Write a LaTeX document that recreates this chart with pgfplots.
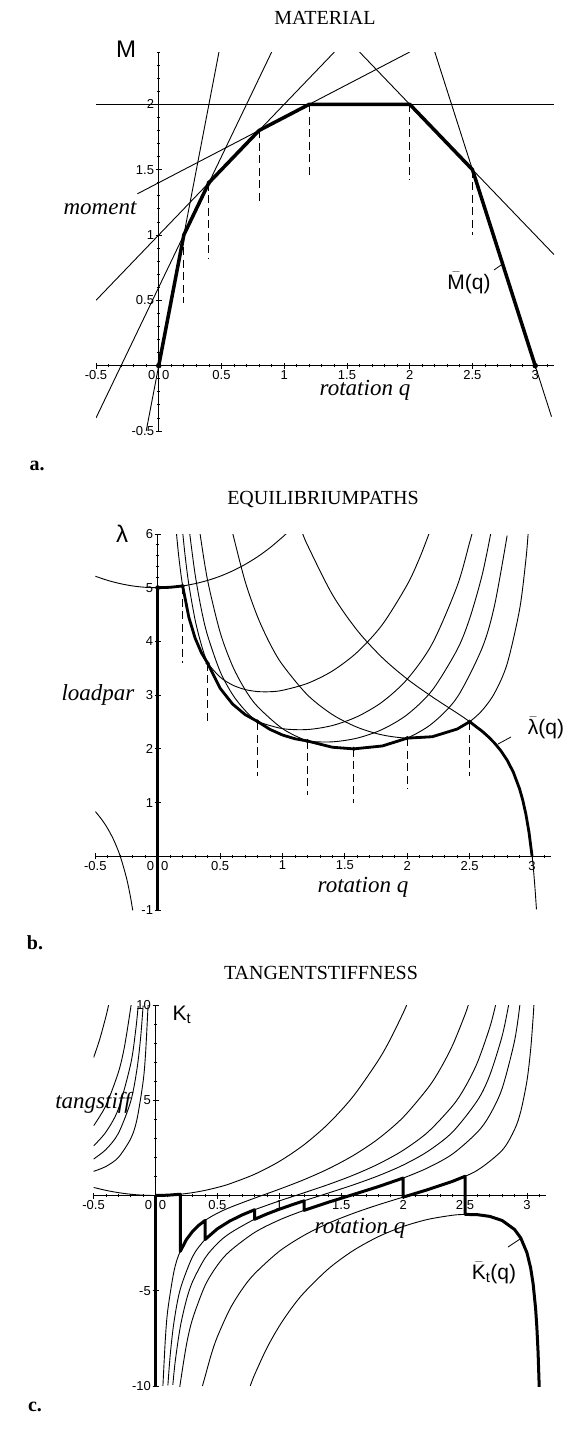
\documentclass[border=0pt]{standalone}
\usepackage{pgfplots}
\pgfplotsset{compat=1.18}
\usepackage{fontspec}
\setmainfont{Liberation Serif}
\newfontfamily\sansf{Liberation Sans}
\pgfplotsset{
  maple/.style={
    scale only axis, anchor=south west,
    axis lines=middle,
    axis line style={-, line width=0.9pt},
    tick align=center,
    major tick length=6pt, minor tick length=3.5pt,
    every tick/.style={black, line width=0.8pt},
    xmin=-0.5, xmax=3.15,
    xtick={-0.5,0,0.5,1,1.5,2,2.5,3,3.5},
    xticklabels={-0.5,0\hspace{7pt}0,0.5,1,1.5,2,2.5,3,},
    minor x tick num=4, minor y tick num=4,
    ticklabel style={font=\sansf\fontsize{13}{13}\selectfont, inner sep=1.5pt},
    hide obscured x ticks=false, hide obscured y ticks=false,
    clip=true,
  },
  thinc/.style={black, line width=0.9pt, no markers, smooth},
  thinl/.style={black, line width=0.9pt, no markers},
  dsh/.style={black, line width=1pt, no markers, dash pattern=on 8pt off 4.5pt},
}
\newcommand{\ttl}{\fontsize{20}{20}\selectfont}
\newcommand{\lab}{\itshape\fontsize{23}{23}\selectfont}
\newcommand{\hw}{\sansf\fontsize{21}{21}\selectfont}
\newcommand{\barr}[1]{\ensuremath{\bar{\mbox{#1}}}}
\begin{document}
\begin{tikzpicture}[x=1pt,y=1pt]
\useasboundingbox (0pt,0pt) rectangle (575pt,-1437pt);

% ---------------- panel a ----------------
\begin{axis}[maple, at={(96pt,-431pt)}, width=458pt, height=379pt,
  ymin=-0.5, ymax=2.4,
  ytick={-0.5,0,0.5,1,1.5,2,2.5}, yticklabels={-0.5,,0.5,1,1.5,2,}]
\addplot[thinl] coordinates {(-0.1,-0.5) (0.48,2.4)};
\addplot[thinl] coordinates {(-0.5,-0.4) (0.9,2.4)};
\addplot[thinl] coordinates {(-0.5,0.5) (1.4,2.4)};
\addplot[thinl] coordinates {(-0.17,1.315) (2.0,2.4)};
\addplot[thinl] coordinates {(-0.5,2) (3.15,2)};
\addplot[thinl] coordinates {(1.6,2.4) (3.15,0.85)};
\addplot[thinl] coordinates {(2.2,2.4) (3.13,-0.39)};
\addplot[black, line width=3.5pt, line join=round, no markers] coordinates {(0,0) (0.2,1) (0.4,1.4) (0.8,1.8) (1.2,2) (2,2) (2.5,1.5) (3,0)};
\addplot[dsh] coordinates {(0.2,1) (0.2,0.48)};
\addplot[dsh] coordinates {(0.4,1.4) (0.4,0.82)};
\addplot[dsh] coordinates {(0.8,1.8) (0.8,1.23)};
\addplot[dsh] coordinates {(1.2,2) (1.2,1.46)};
\addplot[dsh] coordinates {(2,2) (2,1.42)};
\addplot[dsh] coordinates {(2.5,1.5) (2.5,1.0)};
\addplot[only marks, mark=*, mark size=2.5pt, black] coordinates {(0,0) (3,0)};
\addplot[only marks, mark=o, mark size=2pt, black, mark options={fill=white}] coordinates {(0.4,1.4)};
\end{axis}

% ---------------- panel b ----------------
\begin{axis}[maple, at={(95.3pt,-910pt)}, width=455.5pt, height=376pt,
  ymin=-1, ymax=6,
  ytick={-1,0,1,2,3,4,5,6}, yticklabels={-1,,1,2,3,4,5,6}]
\addplot[thinc] coordinates {(-0.5,5.214) (-0.4,5.136) (-0.3,5.076) (-0.2,5.033) (-0.1,5.008) (0,5) (0.1,5.008) (0.2,5.033) (0.3,5.076) (0.4,5.136) (0.5,5.214) (0.6,5.313) (0.7,5.433) (0.8,5.576) (0.9,5.745) (1.0,5.942) (1.03,6.007)};
\addplot[thinc] coordinates {(-0.5,0.834) (-0.45,0.690) (-0.4,0.514) (-0.35,0.292) (-0.3,0) (-0.25,-0.404) (-0.22,-0.733) (-0.2,-1.007)};
\addplot[thinc] coordinates {(0.15,6.022) (0.17,5.556) (0.2,5.033) (0.25,4.446) (0.3,4.061) (0.35,3.791) (0.4,3.595) (0.5,3.337) (0.6,3.188) (0.7,3.105) (0.8,3.067) (0.9,3.064) (1.0,3.090) (1.2,3.219) (1.4,3.450) (1.6,3.802) (1.8,4.313) (2.0,5.059) (2.1,5.561) (2.173,6.0)};
\addplot[thinc] coordinates {(0.2,6.04) (0.22,5.590) (0.25,5.053) (0.3,4.399) (0.35,3.937) (0.4,3.595) (0.5,3.129) (0.6,2.834) (0.7,2.639) (0.8,2.509) (1.0,2.377) (1.2,2.360) (1.4,2.435) (1.6,2.601) (1.8,2.875) (2.0,3.299) (2.2,3.958) (2.4,5.034) (2.5,5.848) (2.518,6.0)};
\addplot[thinc] coordinates {(0.257,6.0) (0.3,5.245) (0.35,4.593) (0.4,4.109) (0.5,3.442) (0.6,3.011) (0.7,2.716) (0.8,2.509) (1.0,2.258) (1.2,2.146) (1.4,2.131) (1.6,2.201) (1.8,2.362) (2.0,2.639) (2.2,3.092) (2.4,3.849) (2.5,4.428) (2.6,5.238) (2.668,6.0)};
\addplot[thinc] coordinates {(0.34,5.997) (0.4,5.136) (0.5,4.172) (0.6,3.542) (0.7,3.105) (0.8,2.788) (1.0,2.377) (1.2,2.146) (1.4,2.030) (1.571,2.0) (1.8,2.054) (2.0,2.2) (2.2,2.474) (2.4,2.961) (2.6,3.880) (2.7,4.680) (2.8,5.970)};
\addplot[thinc] coordinates {(0.6,6.022) (0.7,5.122) (0.8,4.461) (0.9,3.957) (1.0,3.565) (1.2,3.004) (1.4,2.638) (1.6,2.401) (1.8,2.259) (2.0,2.2) (2.2,2.226) (2.4,2.369) (2.5,2.506) (2.6,2.716) (2.7,3.042) (2.8,3.582) (2.9,4.598) (2.95,5.514) (2.968,6.0)};
\addplot[thinc] coordinates {(1.16,6.021) (1.2,5.794) (1.4,4.871) (1.6,4.202) (1.8,3.697) (2.0,3.299) (2.2,2.968) (2.4,2.665) (2.5,2.506) (2.6,2.328) (2.7,2.106) (2.8,1.791) (2.9,1.254) (2.95,0.788) (3.0,0) (3.02,-0.495) (3.035,-0.987)};
\addplot[black, line width=2.5pt, no markers] coordinates {(0,-1) (0,5)};
\addplot[black, line width=2.8pt, line join=round, no markers] coordinates {(0,5) (0.1,5.008) (0.2,5.033) (0.25,4.446) (0.3,4.061) (0.35,3.791) (0.4,3.595) (0.5,3.129) (0.6,2.834) (0.7,2.639) (0.8,2.509) (0.9,2.362) (1.0,2.258) (1.1,2.188) (1.2,2.146) (1.4,2.030) (1.571,2.0) (1.8,2.054) (2.0,2.2) (2.2,2.226) (2.4,2.369) (2.5,2.506) (2.55,2.416) (2.6,2.328) (2.65,2.224) (2.7,2.106) (2.75,1.965) (2.8,1.791) (2.85,1.565) (2.9,1.254) (2.925,1.047) (2.95,0.788) (2.975,0.452) (3.0,0)};
\addplot[dsh] coordinates {(0.2,5.03) (0.2,3.6)};
\addplot[dsh] coordinates {(0.4,3.6) (0.4,2.5)};
\addplot[dsh] coordinates {(0.8,2.5) (0.8,1.5)};
\addplot[dsh] coordinates {(1.2,2.15) (1.2,1.15)};
\addplot[dsh] coordinates {(1.571,2.0) (1.571,1.0)};
\addplot[dsh] coordinates {(2.0,2.2) (2.0,1.25)};
\addplot[dsh] coordinates {(2.5,2.5) (2.5,1.5)};
\addplot[only marks, mark=o, mark size=1.8pt, black, mark options={fill=white, line width=0.6pt}] coordinates {(0.2,5.033) (0.4,3.595) (0.8,2.509) (1.2,2.146) (1.571,2.0) (2.0,2.2) (2.5,2.506)};
\addplot[only marks, mark=*, mark size=2.2pt, black] coordinates {(0,5)};
\end{axis}

% ---------------- panel c ----------------
\begin{axis}[maple, at={(93.6pt,-1386pt)}, width=451.9pt, height=381pt,
  ymin=-10, ymax=10,
  ytick={-10,-5,0,5,10}, yticklabels={-10,-5,,5,10}]
\addplot[thinc] coordinates {(-0.5,0.424) (-0.4,0.270) (-0.3,0.151) (-0.2,0.067) (-0.1,0.017) (0,0) (0.1,0.017) (0.2,0.067) (0.3,0.151) (0.4,0.270) (0.5,0.424) (0.6,0.615) (0.8,1.115) (1.0,1.790) (1.2,2.667) (1.4,3.793) (1.6,5.234) (1.8,7.100) (1.9,8.246) (2.0,9.577) (2.03,10.02)};
\addplot[thinc] coordinates {(-0.5,1.268) (-0.4,1.527) (-0.3,2.0) (-0.2,2.987) (-0.15,3.985) (-0.1,5.987) (-0.08,7.488) (-0.06,9.99)};
\addplot[thinc] coordinates {(0.06,-9.99) (0.08,-7.480) (0.1,-5.967) (0.15,-3.955) (0.2,-2.933) (0.3,-1.879) (0.4,-1.311) (0.5,-0.929) (0.6,-0.631) (0.8,-0.137) (1.0,0.331) (1.2,0.834) (1.4,1.414) (1.6,2.111) (1.8,2.980) (2.0,4.105) (2.2,5.640) (2.3,6.646) (2.4,7.895) (2.5,9.496) (2.53,10.08)};
\addplot[thinc] coordinates {(-0.5,1.915) (-0.4,2.419) (-0.3,3.263) (-0.2,4.947) (-0.15,6.624) (-0.12,8.298) (-0.1,9.970)};
\addplot[thinc] coordinates {(0.1,-9.963) (0.12,-8.289) (0.15,-6.609) (0.2,-4.920) (0.3,-3.203) (0.4,-2.311) (0.5,-1.746) (0.6,-1.339) (0.7,-1.018) (0.8,-0.748) (1.0,-0.284) (1.2,0.145) (1.4,0.586) (1.6,1.076) (1.8,1.653) (2.0,2.373) (2.2,3.329) (2.4,4.712) (2.5,5.685) (2.6,6.984) (2.7,8.827) (2.747,10.0)};
\addplot[thinc] coordinates {(-0.5,2.605) (-0.4,3.338) (-0.3,4.541) (-0.2,6.913) (-0.16,8.680) (-0.14,9.938)};
\addplot[thinc] coordinates {(0.14,-9.938) (0.16,-8.671) (0.2,-6.900) (0.25,-5.473) (0.3,-4.511) (0.4,-3.284) (0.5,-2.520) (0.6,-1.985) (0.8,-1.248) (1.0,-0.720) (1.2,-0.278) (1.4,0.138) (1.6,0.564) (1.8,1.037) (2.0,1.598) (2.2,2.320) (2.4,3.338) (2.6,4.988) (2.7,6.317) (2.8,8.376) (2.852,10.0)};
\addplot[thinc] coordinates {(-0.5,3.661) (-0.4,4.730) (-0.3,6.465) (-0.25,7.833) (-0.2,9.866) (-0.197,10.02)};
\addplot[thinc] coordinates {(0.197,-10.02) (0.2,-9.866) (0.25,-7.833) (0.3,-6.465) (0.4,-4.730) (0.5,-3.661) (0.6,-2.923) (0.8,-1.942) (1.0,-1.284) (1.2,-0.778) (1.4,-0.345) (1.6,0.058) (1.8,0.467) (2.0,0.915) (2.2,1.456) (2.4,2.183) (2.6,3.325) (2.7,4.231) (2.8,5.625) (2.9,8.117) (2.943,10.0)};
\addplot[thinc] coordinates {(-0.5,7.237) (-0.45,8.212) (-0.4,9.407) (-0.379,10.0)};
\addplot[thinc] coordinates {(0.379,-10.0) (0.4,-9.515) (0.45,-8.349) (0.5,-7.407) (0.6,-5.970) (0.7,-4.918) (0.8,-4.108) (1.0,-2.926) (1.2,-2.089) (1.4,-1.448) (1.6,-0.930) (1.8,-0.487) (2.0,-0.085) (2.2,0.310) (2.4,0.747) (2.6,1.327) (2.8,2.375) (2.9,3.464) (2.95,4.413) (3.0,6.015) (3.03,7.656) (3.05,9.344) (3.056,10.0)};
\addplot[thinc] coordinates {(0.765,-10.0) (0.8,-9.41) (0.9,-8.0) (1.0,-6.853) (1.1,-5.901) (1.2,-5.099) (1.4,-3.828) (1.6,-2.877) (1.8,-2.160) (2.0,-1.627) (2.2,-1.253) (2.4,-1.035) (2.5,-0.992) (2.6,-1.005) (2.7,-1.096) (2.8,-1.312) (2.9,-1.783) (2.95,-2.227) (3.0,-3.0) (3.05,-4.633) (3.08,-6.892) (3.1,-10.2)};
\addplot[black, line width=2.5pt, no markers] coordinates {(0,0) (0,-10)};
\addplot[black, line width=3pt, line join=round, no markers] coordinates {(0,0) (0.1,0.017) (0.2,0.067) (0.2,-2.933) (0.25,-2.308) (0.3,-1.879) (0.35,-1.561) (0.4,-1.311) (0.4,-2.311) (0.5,-1.746) (0.6,-1.339) (0.7,-1.018) (0.8,-0.748) (0.8,-1.248) (0.9,-0.968) (1.0,-0.720) (1.1,-0.4925) (1.2,-0.278) (1.2,-0.778) (1.4,-0.345) (1.6,0.058) (1.8,0.467) (2.0,0.915) (2.0,-0.085) (2.2,0.310) (2.4,0.747) (2.5,1.008) (2.5,-0.992) (2.6,-1.005) (2.7,-1.096) (2.8,-1.312) (2.9,-1.783) (2.95,-2.227) (3.0,-3.0) (3.03,-3.803) (3.05,-4.633) (3.07,-5.928) (3.08,-6.892) (3.09,-8.23) (3.1,-10.2)};
\end{axis}

% ---------------- texts ----------------
\node[font=\ttl] at (325pt,-18pt) {MATERIAL};
\node[font=\ttl] at (323pt,-499pt) {EQUILIBRIUMPATHS};
\node[font=\ttl] at (321pt,-973pt) {TANGENTSTIFFNESS};
\node[font=\bfseries\fontsize{20}{20}\selectfont] at (37pt,-466pt) {a.};
\node[font=\bfseries\fontsize{20}{20}\selectfont] at (35pt,-943pt) {b.};
\node[font=\bfseries\fontsize{20}{20}\selectfont] at (35pt,-1407pt) {c.};
\node[font=\lab] at (100pt,-208pt) {moment};
\node[font=\lab] at (98pt,-695pt) {loadpar};
\node[font=\lab] at (93pt,-1103pt) {tangstiff};
\node[font=\lab] at (365pt,-390pt) {rotation q};
\node[font=\lab] at (363pt,-887pt) {rotation q};
\node[font=\lab] at (360pt,-1228pt) {rotation q};
\node[font=\hw\fontsize{24}{24}\selectfont] at (126pt,-49pt) {M};
\node[font=\hw\fontsize{24}{24}\selectfont] at (122pt,-534pt) {λ};
\node[font=\hw] at (182pt,-1015pt) {K\textsubscript{t}};
\node[font=\hw] at (469pt,-283pt) {\barr{M}(q)};
\node[font=\hw] at (546pt,-728pt) {\barr{λ}(q)};
\node[font=\hw] at (494pt,-1273pt) {\barr{K}\textsubscript{t}(q)};
\draw[line width=0.8pt] (494pt,-270pt) -- (504pt,-263pt);
\draw[line width=0.8pt] (498pt,-744pt) -- (511pt,-737pt);
\draw[line width=0.8pt] (508pt,-1247pt) -- (520pt,-1239pt);
\end{tikzpicture}
\end{document}
